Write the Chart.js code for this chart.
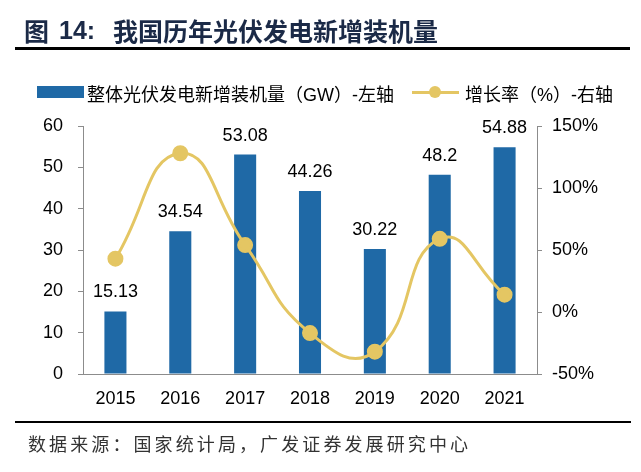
<!DOCTYPE html>
<html>
<head>
<meta charset="utf-8">
<script src="https://cdn.jsdelivr.net/npm/chart.js@4"></script>
<style>
  body { margin: 0; background: #fff; }
  #wrap { position: relative; width: 641px; height: 472px; overflow: hidden; }
  #myChart { position: absolute; left: 0; top: 0; }
  .txt { position: absolute; white-space: nowrap; font-family: "Liberation Sans", "Noto Sans CJK SC", sans-serif; }
  .tit { position: absolute; top: 15px; height: 30px; line-height: 30px; font-size: 25px; font-weight: bold; color: #1b2a47; white-space: nowrap; }
</style>
</head>
<body>
<div id="wrap">
  <canvas id="myChart" width="641" height="472"></canvas>
  <div class="tit" style="left:24px;font-family:'Noto Sans CJK SC';">图</div>
  <div class="tit" style="left:59px;font-family:'Liberation Sans';">14:</div>
  <div class="tit" style="left:113px;font-family:'Noto Sans CJK SC';">我国历年光伏发电新增装机量</div>
  <div style="position:absolute;left:15px;top:47px;width:615px;height:2.5px;background:#000;"></div>

  <div style="position:absolute;left:37px;top:86px;width:47px;height:12px;background:#1f69a6;"></div>
  <div class="txt" style="left:87px;top:80px;font-size:18px;color:#000;">整体光伏发电新增装机量（GW）-左轴</div>
  <div style="position:absolute;left:412px;top:90.5px;width:47px;height:3px;background:#e4c663;"></div>
  <div style="position:absolute;left:429px;top:86px;width:12px;height:12px;border-radius:50%;background:#e4c663;"></div>
  <div class="txt" style="left:465px;top:80px;font-size:18px;color:#000;">增长率（%）-右轴</div>

  <div style="position:absolute;left:15px;top:421px;width:615px;height:1.5px;background:#000;"></div>
  <div style="position:absolute;left:15px;top:420.5px;width:12px;height:2.5px;background:#000;"></div>
  <div style="position:absolute;left:617px;top:420.5px;width:14px;height:2.5px;background:#000;"></div>
  <div class="txt" style="left:28px;top:430px;font-size:18px;letter-spacing:3.1px;color:#333;">数据来源：国家统计局，广发证券发展研究中心</div>
</div>
<script>
// 我国历年光伏发电新增装机量
const anni = ['2015', '2016', '2017', '2018', '2019', '2020', '2021'];
const nuovaCapacita = [15.13, 34.54, 53.08, 44.26, 30.22, 48.2, 54.88];
const crescita = [43, 128, 54, -17, -32, 59, 14];
const tickSinistra = [0, 10, 20, 30, 40, 50, 60];
const tickDestra = [-50, 0, 50, 100, 150];

const blu = '#1f69a6';
const giallo = '#e4c663';
const grigio = '#8c8c8c';
const fontAssi = { family: 'Liberation Sans', size: 18 };

// etichette sopra le barre
const etichetteBarre = {
  id: 'etichetteBarre',
  afterDatasetsDraw(chart) {
    const meta = chart.getDatasetMeta(1);
    const c = chart.ctx;
    c.save();
    c.font = '18px "Liberation Sans"';
    c.fillStyle = '#000';
    c.textAlign = 'center';
    c.textBaseline = 'middle';
    meta.data.forEach((bar, i) => {
      c.fillText(String(nuovaCapacita[i]), bar.x, bar.y - 19);
    });
    c.restore();
  }
};

const ctx = document.getElementById('myChart');

new Chart(ctx, {
  data: {
    labels: anni,
    datasets: [{
      type: 'line',
      label: '增长率（%）-右轴',
      data: crescita,
      yAxisID: 'y1',
      borderColor: giallo,
      backgroundColor: giallo,
      borderWidth: 3,
      tension: 0.5,
      pointRadius: 6.5,
      pointHoverRadius: 6.5,
      order: 0
    }, {
      type: 'bar',
      label: '整体光伏发电新增装机量（GW）-左轴',
      data: nuovaCapacita,
      yAxisID: 'y',
      backgroundColor: blu,
      barPercentage: 0.34,
      categoryPercentage: 1,
      order: 1
    }]
  },
  options: {
    responsive: false,
    animation: false,
    layout: { padding: { top: 126, left: 0, right: 0, bottom: 58 } },
    plugins: { legend: { display: false }, tooltip: { enabled: false } },
    scales: {
      x: {
        grid: { display: false, drawTicks: false },
        border: { display: true, color: grigio, width: 1 },
        ticks: { color: '#000', font: fontAssi, padding: 14, maxRotation: 0 },
        afterFit(scale) { scale.height = 40; }
      },
      y: {
        position: 'left',
        min: 0,
        max: 60,
        afterBuildTicks(scale) { scale.ticks = tickSinistra.map(v => ({ value: v })); },
        grid: { drawOnChartArea: false, drawTicks: true, tickLength: 5, color: grigio },
        border: { display: true, color: grigio, width: 1 },
        ticks: { color: '#000', font: fontAssi, padding: 15 },
        afterFit(scale) { scale.width = 83; }
      },
      y1: {
        position: 'right',
        min: -50,
        max: 150,
        afterBuildTicks(scale) { scale.ticks = tickDestra.map(v => ({ value: v })); },
        grid: { drawOnChartArea: false, drawTicks: true, tickLength: 5, color: grigio },
        border: { display: true, color: grigio, width: 1 },
        ticks: { color: '#000', font: fontAssi, padding: 10, callback: v => v + '%' },
        afterFit(scale) { scale.width = 104; }
      }
    }
  },
  plugins: [etichetteBarre]
});
</script>
</body>
</html>
